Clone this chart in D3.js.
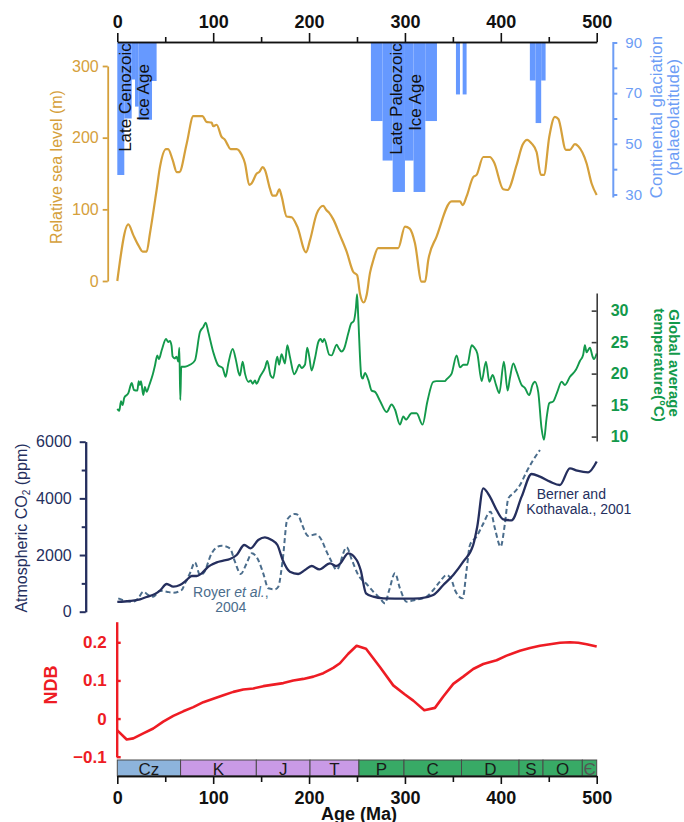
<!DOCTYPE html>
<html>
<head>
<meta charset="utf-8">
<script src="https://cdn.jsdelivr.net/npm/d3@7"></script>
<style>
  body { margin: 0; background: #fff; }
  svg { display: block; font-family: "Liberation Sans", Arial, sans-serif; }
</style>
</head>
<body>
<svg id="chart" width="684" height="822"></svg>
<script>
// ---------- data ----------
// Continental glaciation: age span (Ma) and equatorward extent (palaeolatitude)
const glacStart = [0, 7.3, 15, 18.5, 22.3, 36.2, 264.5, 276.7, 287.2, 300, 309, 321.2, 353.2, 360.2, 430.3, 436.3, 442.1];
const glacEnd   = [7.3, 15, 18.5, 22.3, 36.2, 41, 276.7, 287.2, 300, 309, 321.2, 333.4, 357.4, 364.3, 436.3, 442.1, 446.7];
const glacLat   = [37.7, 60, 75.4, 64.7, 59.5, 74.8, 59, 43.4, 31, 43.4, 31, 59, 69.5, 69.5, 75, 58.2, 75];

// Relative sea level (m)
const seaAge = [0, 11.5, 16.7, 21.9, 26.5, 30.6, 34, 41, 44.5, 50.8, 53, 57.7, 62, 64.7, 72.4, 79.3, 89, 93, 98.4, 100,
  103.6, 108.8, 112.3, 114.7, 118.2, 124.5, 129.7, 133.2, 137.6, 140, 145.4, 148, 151.6, 154, 159.2, 162, 165.5, 169,
  171.4, 176.6, 181.8, 187.7, 196.8, 201, 208, 214.8, 218, 221, 225.3, 232.2, 239.2, 246, 250.2, 253, 257, 260, 263.5,
  267, 272, 293, 300, 305, 310.4, 317.4, 321, 324.3, 333, 348.7, 357.4, 360.2, 364.3, 371.2, 374.7, 381.7, 388.6,
  392.8, 402.5, 407, 416.5, 422.7, 427.5, 432, 437.3, 441.8, 445, 450.5, 456.4, 460, 467.9, 472, 477.3, 480.8, 489.5,
  494.7, 500];
const seaLevel = [0, 79, 64, 50, 41, 41, 66, 127, 159, 184, 184, 169, 152, 152, 192, 230, 230, 222, 221, 216,
  218, 201, 197, 191, 184, 184, 176, 164, 134, 136, 150, 152, 159, 155, 129, 119, 119, 128,
  118, 90, 89, 76, 40, 57, 94, 105, 99, 95, 86, 64, 41, 13, 8, -17, -30, -20, 11,
  29, 46, 46, 76, 73, 53, -1, -1, 29, 62, 111, 111, 106, 118, 145, 148, 173, 173,
  166, 128, 127, 162, 190, 197, 192, 180, 148, 148, 201, 229, 226, 183, 183, 191, 188, 164,
  136, 120];

// Global average temperature (°C)
const tempAge = [0, 2, 3.9, 5.6, 7.3, 11.5, 15, 17.4, 20.9, 22.3, 23.6, 24.7, 27.1, 28.8, 30.6, 33.4, 36.9, 39.3, 41.7,
  43.4, 46.3, 50.8, 53.2, 54.9, 56.6, 57.7, 60.1, 61.8, 63.6, 64.7, 65.7, 66.7, 70.6, 75.8, 81, 86.2, 89.7, 92.2, 94.9,
  100.1, 105.3, 109.8, 113, 115.8, 120.3, 123.8, 126.2, 127.9, 130.7, 133.2, 136.6, 139.1, 141.2, 143.6, 145.3, 148.8,
  154, 156.4, 159.9, 162.6, 166.8, 168.8, 171.3, 174.8, 177.3, 180, 184.6, 187, 189.8, 192.2, 195.7, 198.1, 200.2,
  202.6, 206.1, 209.6, 212, 214.1, 215.8, 221.1, 223.5, 228.8, 230.4, 233.9, 236.4, 240.9, 244, 246.5, 248.9, 250.1,
  251.3, 254.5, 256, 258.3, 261.8, 265.3, 268.8, 273.9, 280.9, 286.1, 289.6, 294.8, 298.3, 301, 306.9, 312.1, 318.4,
  323.3, 329.5, 333, 341.7, 343.4, 348.7, 353.9, 357.4, 360.9, 365, 369.6, 372, 375.5, 380, 384.5, 388, 391.5, 395,
  398.4, 403.2, 407.1, 409.5, 413, 416.5, 421.7, 425.2, 429.6, 433, 435.5, 439, 442.5, 445, 447.7, 450.5, 454.7, 458.9,
  463.4, 466.9, 472.1, 478.3, 482.5, 485.9, 487.7, 489.4, 492.9, 495.7, 497, 500];
const tempVal = [14.4, 14.1, 15.6, 15, 16.2, 16.9, 18.5, 17.4, 17.3, 18.8, 18.2, 18.8, 16.6, 17.9, 17.1, 18.2, 19.8, 21.3, 22.9,
  22.3, 23.7, 25.5, 25, 25.2, 24.4, 22.7, 22.4, 22.7, 21.9, 24.1, 15.8, 21.1, 21.1, 21.4, 22.1, 26.6, 27.4, 28.1, 26.6,
  23.4, 21.3, 20.9, 19.5, 21.6, 23.9, 22.1, 20.3, 19.7, 21.9, 20, 18.7, 18.9, 18.4, 18.9, 18.4, 19.5,
  20.9, 22, 19.7, 19.3, 22.7, 21.4, 23.1, 21.6, 24.5, 22.7, 19.9, 20.5, 21.4, 20.9, 21.4, 24.1, 22.7,
  20.5, 22.4, 25, 25.5, 25, 25.5, 23, 22.9, 24.6, 24.2, 23.5, 23.9, 26.4, 28, 28.3, 30.5, 32.6,
  29, 19.6, 19.2, 20.1, 19, 17.3, 17.1, 15.7, 13.9, 15.1, 14.3, 11.9, 13.2, 12.7, 13.7, 13.7, 11.9,
  15.5, 18.7, 18.8, 18.8, 19.1, 20, 22.9, 21, 21.4, 21.4, 24.5, 24.2, 23.2, 18.8, 21.9, 18.7, 19.8, 18.2,
  16.9, 21.9, 17.3, 19.3, 21.6, 20.3, 18.2, 17.7, 16.6, 18.2, 18.7, 17.1, 11.3, 9.5, 12.9, 15.3, 15.6, 17.1,
  18.7, 18.2, 19.5, 20.6, 22, 23, 24.5, 23.4, 24.1, 22.7, 22.3, 23.2];

// Atmospheric CO2 (ppm), Berner and Kothavala 2001
const bernerAge = [0, 13, 23.7, 30.6, 39.3, 44.5, 51.5, 58.4, 65.3, 72.4, 77.6, 82.8, 88, 95, 103.7, 110.6, 117.5, 124.5,
  132.4, 139, 147, 154, 161, 167, 172.5, 180, 188.7, 195.7, 202.7, 210.7, 221.8, 228.7, 232.5, 240.9, 249.6, 253.8,
  259.4, 267, 277.4, 301.7, 315.6, 329.5, 340, 350.4, 360.8, 371.2, 375.4, 381.7, 388.6, 395.6, 402.5, 411.2, 421.7,
  432.1, 440.8, 451.3, 461.6, 472, 479.7, 491.1, 500];
const bernerCO2 = [350, 378, 437, 520, 625, 741, 978, 882, 941, 1119, 1260, 1260, 1355, 1590, 1743, 1803, 1860, 2000,
  2354, 2236, 2530, 2625, 2530, 2354, 1825, 1412, 1331, 1472, 1613, 1494, 1708, 1613, 1700, 2060, 1825, 1472,
  649, 530, 472, 460, 472, 590, 943, 1296, 1766, 2354, 3001, 4355, 4060, 3590, 3260, 3226, 4060,
  4860, 4766, 4590, 4472, 5060, 4978, 4920, 5300];

// Atmospheric CO2 (ppm), Royer et al. 2004
const royerAge = [1, 7.9, 15.9, 21.8, 27.1, 32.3, 37.5, 44.5, 51.5, 58.4, 67.1, 70.6, 75.8, 81, 86.2, 90.3, 98.4, 103.5,
  108.9, 117.5, 122.7, 128.7, 134.9, 140.2, 147, 152.2, 157.5, 164.4, 167.9, 172.5, 177.3, 185.3, 188.7, 192.2, 199.2,
  207.2, 213.1, 218.3, 223.5, 228.7, 239.2, 244.4, 251.3, 260, 267, 274, 279.1, 283.6, 289.6, 294.8, 301.7, 310.4,
  322.6, 329.5, 336.5, 343.4, 348.7, 352.1, 360.2, 364.3, 367.8, 374.7, 381, 389.3, 393.8, 399.8, 404.3, 407.8, 413,
  420, 426.9, 433.8, 440.8];
const royerCO2 = [472, 390, 353, 472, 706, 590, 530, 741, 706, 670, 765, 1000, 1355, 1743, 1296, 1378, 2060, 2270,
  2330, 2236, 1766, 1331, 1708, 2060, 1825, 1355, 825, 788, 882, 1825, 3260, 3450, 3413, 3120, 2672,
  2730, 2530, 2118, 1766, 1472, 2272, 1849, 1296, 978, 706, 472, 296, 765, 1355, 825, 353, 412,
  530, 765, 1060, 1296, 1119, 765, 472, 1472, 2354, 2648, 3060, 3531, 2942, 2296, 3119, 4000, 4178,
  4472, 4942, 5354, 5708];

// NDB
const ndbAge = [0, 9.8, 16.7, 27.1, 37.5, 47.9, 58.4, 68.8, 79.3, 89.7, 100.1, 110.6, 121, 131.4, 141.9, 152.3, 162.7,
  173.2, 183.6, 194, 204.5, 214.9, 225.2, 232.2, 240.9, 249.6, 259.4, 273.9, 287.8, 300, 308.7, 320.2, 331.3, 340,
  350.4, 360.8, 371.2, 381.7, 395.6, 406, 419.9, 430.4, 440.8, 451.3, 461.7, 472.1, 480.8, 489.5, 500];
const ndbVal = [-0.031, -0.055, -0.052, -0.039, -0.026, -0.008, 0.007, 0.019, 0.030, 0.043, 0.052, 0.061, 0.070, 0.076,
  0.079, 0.085, 0.089, 0.093, 0.100, 0.104, 0.110, 0.119, 0.133, 0.145, 0.170, 0.191, 0.183, 0.135, 0.087, 0.063,
  0.047, 0.022, 0.028, 0.058, 0.091, 0.110, 0.130, 0.143, 0.153, 0.165, 0.178, 0.185, 0.191, 0.195, 0.199, 0.200,
  0.199, 0.195, 0.189];

// Geological periods
const periodName  = ["Cz", "K", "J", "T", "P", "C", "D", "S", "O", "Є"];
const periodStart = [0, 66, 145, 201, 252, 299, 359, 419, 444, 485];
const periodEnd   = [66, 145, 201, 252, 299, 359, 419, 444, 485, 500];
const periodEra   = ["Cenozoic", "Mesozoic", "Mesozoic", "Mesozoic", "Paleozoic", "Paleozoic", "Paleozoic", "Paleozoic", "Paleozoic", "Paleozoic"];

// tick values
const ageMajor = [0, 100, 200, 300, 400, 500];
const ageMinor = [50, 150, 250, 350, 450];
const seaTicks = [0, 100, 200, 300];
const glacTicks = [30, 40, 50, 60, 70, 80, 90];
const glacLabels = [30, 50, 70, 90];
const tempTicks = [10, 15, 20, 25, 30];
const co2Major = [0, 2000, 4000, 6000];
const co2Minor = [1000, 3000, 5000];
const ndbTicks = [-0.1, 0, 0.1, 0.2];

// ---------- colours ----------
const GOLD = "#d5a03b", BLUE = "#6699ff", BLUE_TXT = "#6d9df5", GREEN = "#13994b",
      NAVY = "#252f5e", SLATE = "#4b6d8c", RED = "#ee1c24";
const eraColor = { Cenozoic: "#8db4dc", Mesozoic: "#c99ae6", Paleozoic: "#38aa66" };

// ---------- scales ----------
const svg = d3.select("#chart");
const x = d3.scaleLinear().domain([0, 500]).range([117.3, 596.7]);
const ySea = d3.scaleLinear().domain([0, 300]).range([281, 66]);
const yGlac = d3.scaleLinear().domain([30, 90]).range([194.5, 42.5]);
const yTemp = d3.scaleLinear().domain([9.3, 32.8]).range([441, 293]);
const yCO2 = d3.scaleLinear().domain([0, 6000]).range([611.7, 441.7]);
const yNDB = d3.scaleLinear().domain([-0.1, 0.254]).range([756.7, 621.7]);

function styleAxis(g, color, size, bold, width) {
  g.attr("font-family", null).attr("font-size", null);
  g.select(".domain").attr("stroke", color).attr("stroke-width", width);
  g.selectAll(".tick line").attr("stroke", color).attr("stroke-width", width);
  g.selectAll(".tick text").attr("fill", color)
    .style("font-size", size + "px").style("font-weight", bold ? "bold" : "normal");
}

// ---------- glaciation bars ----------
const gGlac = svg.append("g");
gGlac.selectAll("rect").data(d3.range(glacStart.length)).join("rect")
  .attr("x", i => x(glacStart[i]))
  .attr("width", i => x(glacEnd[i]) - x(glacStart[i]))
  .attr("y", yGlac(90))
  .attr("height", i => yGlac(glacLat[i]) - yGlac(90))
  .attr("fill", BLUE);

function vText(cx, cy, angle, str, opts) {
  const t = svg.append("text")
    .attr("transform", `translate(${cx},${cy}) rotate(${angle})`)
    .attr("text-anchor", "middle")
    .style("font-size", opts.size + "px")
    .style("font-weight", opts.bold ? "bold" : "normal")
    .attr("fill", opts.color);
  t.text(str);
  return t;
}
vText(130.5, 97.5, -90, "Late Cenozoic", { size: 17, color: "#111" });
vText(148.5, 92.5, -90, "Ice Age", { size: 17, color: "#111" });
vText(401.5, 99, -90, "Late Paleozoic", { size: 17, color: "#111" });
vText(420.5, 102.5, -90, "Ice Age", { size: 17, color: "#111" });

// ---------- sea level ----------
const seaLine = d3.line().x(d => x(d[0])).y(d => ySea(d[1])).curve(d3.curveMonotoneX);
svg.append("path").datum(d3.zip(seaAge, seaLevel))
  .attr("d", seaLine).attr("fill", "none").attr("stroke", GOLD).attr("stroke-width", 2.2)
  .attr("stroke-linejoin", "round");

// ---------- temperature ----------
const tempLine = d3.line().x(d => x(d[0])).y(d => yTemp(d[1])).curve(d3.curveMonotoneX);
svg.append("path").datum(d3.zip(tempAge, tempVal))
  .attr("d", tempLine).attr("fill", "none").attr("stroke", GREEN).attr("stroke-width", 1.9)
  .attr("stroke-linejoin", "round");

// ---------- CO2 ----------
const co2Line = d3.line().x(d => x(d[0])).y(d => yCO2(d[1])).curve(d3.curveMonotoneX);
svg.append("path").datum(d3.zip(royerAge, royerCO2))
  .attr("d", co2Line).attr("fill", "none").attr("stroke", SLATE).attr("stroke-width", 2)
  .attr("stroke-dasharray", "5,3");
svg.append("path").datum(d3.zip(bernerAge, bernerCO2))
  .attr("d", co2Line).attr("fill", "none").attr("stroke", NAVY).attr("stroke-width", 2.3)
  .attr("stroke-linejoin", "round");

const royer = svg.append("text").attr("x", 230.8).attr("y", 597).attr("text-anchor", "middle")
  .attr("fill", SLATE).style("font-size", "14px");
royer.append("tspan").text("Royer ");
royer.append("tspan").style("font-style", "italic").text("et al.");
royer.append("tspan").text(",");
svg.append("text").attr("x", 230.8).attr("y", 611.5).attr("text-anchor", "middle")
  .attr("fill", SLATE).style("font-size", "14px").text("2004");
svg.append("text").attr("x", 571.3).attr("y", 499).attr("text-anchor", "middle")
  .attr("fill", NAVY).style("font-size", "14px").text("Berner and");
svg.append("text").attr("x", 578.8).attr("y", 514).attr("text-anchor", "middle")
  .attr("fill", NAVY).style("font-size", "14px").text("Kothavala., 2001");

// ---------- NDB ----------
const ndbLine = d3.line().x(d => x(d[0])).y(d => yNDB(d[1]));
svg.append("path").datum(d3.zip(ndbAge, ndbVal))
  .attr("d", ndbLine).attr("fill", "none").attr("stroke", RED).attr("stroke-width", 2.6)
  .attr("stroke-linejoin", "round");

// ---------- geological time scale ----------
const gPer = svg.append("g");
gPer.selectAll("rect").data(d3.range(periodName.length)).join("rect")
  .attr("x", i => x(periodStart[i]))
  .attr("width", i => x(periodEnd[i]) - x(periodStart[i]))
  .attr("y", 760).attr("height", 16)
  .attr("fill", i => eraColor[periodEra[i]])
  .attr("stroke", "#4a4a4a").attr("stroke-width", 1);
gPer.selectAll("text").data(d3.range(periodName.length)).join("text")
  .attr("x", i => (x(periodStart[i]) + x(periodEnd[i])) / 2)
  .attr("y", 774.5)
  .attr("text-anchor", "middle")
  .style("font-size", "17px")
  .attr("fill", i => periodName[i] === "Є" ? "#555" : "#1a1a1a")
  .text(i => periodName[i]);

// ---------- axes ----------
// top age axis
const gTop = svg.append("g").attr("transform", "translate(0,42)")
  .call(d3.axisTop(x).tickValues(ageMajor).tickSize(9).tickPadding(5).tickSizeOuter(0).tickFormat(d3.format("d")));
svg.append("g").attr("transform", "translate(0,42)")
  .call(d3.axisTop(x).tickValues(ageMinor).tickSize(5).tickSizeOuter(0).tickFormat(""))
  .call(g => styleAxis(g, "#111", 18, true, 1.6));
styleAxis(gTop, "#111", 18, true, 1.6);

// bottom age axis
const gBot = svg.append("g").attr("transform", "translate(0,776)")
  .call(d3.axisBottom(x).tickValues(ageMajor).tickSize(8).tickPadding(7).tickSizeOuter(0).tickFormat(d3.format("d")));
svg.append("g").attr("transform", "translate(0,776)")
  .call(d3.axisBottom(x).tickValues(ageMinor).tickSize(6).tickSizeOuter(0).tickFormat(""))
  .call(g => styleAxis(g, "#111", 18, true, 1.6));
styleAxis(gBot, "#111", 18, true, 1.6);
svg.append("text").attr("x", 359).attr("y", 819.5).attr("text-anchor", "middle")
  .style("font-size", "18px").style("font-weight", "bold").attr("fill", "#111").text("Age (Ma)");

// sea level axis
const gSea = svg.append("g").attr("transform", "translate(107.7,0)")
  .call(d3.axisLeft(ySea).tickValues(seaTicks).tickSize(5).tickPadding(4).tickSizeOuter(0));
styleAxis(gSea, GOLD, 16, false, 1.8);
vText(62, 167, -90, "Relative sea level (m)", { size: 16, color: GOLD });

// glaciation axis
const gGl = svg.append("g").attr("transform", "translate(613.3,0)")
  .call(d3.axisRight(yGlac).tickValues(glacTicks).tickSize(4).tickPadding(8).tickSizeOuter(0)
    .tickFormat(d => glacLabels.includes(d) ? d : ""));
styleAxis(gGl, BLUE_TXT, 15, false, 2);
gGl.select(".domain").attr("d", `M0,42V197.5`);
vText(662, 117, -90, "Continental glaciation", { size: 17, color: BLUE_TXT });
vText(679, 117.5, -90, "(palaeolatitude)", { size: 17, color: BLUE_TXT });

// temperature axis
const gT = svg.append("g").attr("transform", "translate(596.7,0)")
  .call(d3.axisRight(yTemp).tickValues(tempTicks).tickSize(-5).tickPadding(14).tickSizeOuter(0));
styleAxis(gT, "#3c3c3c", 16, true, 1.6);
gT.selectAll(".tick text").attr("fill", GREEN);
vText(669, 363, 90, "Global average", { size: 15, bold: true, color: GREEN });
vText(653.5, 365, 90, "temperature(°C)", { size: 15, bold: true, color: GREEN });

// CO2 axis
const gC = svg.append("g").attr("transform", "translate(85.7,0)")
  .call(d3.axisLeft(yCO2).tickValues(co2Major).tickSize(6).tickPadding(8).tickSizeOuter(0)
    .tickFormat(d3.format("d")));
svg.append("g").attr("transform", "translate(85.7,0)")
  .call(d3.axisLeft(yCO2).tickValues(co2Minor).tickSize(4).tickSizeOuter(0).tickFormat(""))
  .call(g => styleAxis(g, NAVY, 16, false, 2));
styleAxis(gC, NAVY, 16, false, 2);
const co2Title = svg.append("text")
  .attr("transform", "translate(27,528) rotate(-90)")
  .attr("text-anchor", "middle").style("font-size", "16px").attr("fill", NAVY);
co2Title.append("tspan").text("Atmospheric CO");
co2Title.append("tspan").attr("dy", 3).style("font-size", "10px").text("2");
co2Title.append("tspan").attr("dy", -3).text(" (ppm)");

// NDB axis
const gN = svg.append("g").attr("transform", "translate(116.7,0)")
  .call(d3.axisLeft(yNDB).tickValues(ndbTicks).tickSize(-4).tickPadding(10).tickSizeOuter(0)
    .tickFormat(d3.format("")));
styleAxis(gN, RED, 17, true, 2.4);
vText(57, 685, -90, "NDB", { size: 18, bold: true, color: RED });
</script>
</body>
</html>
